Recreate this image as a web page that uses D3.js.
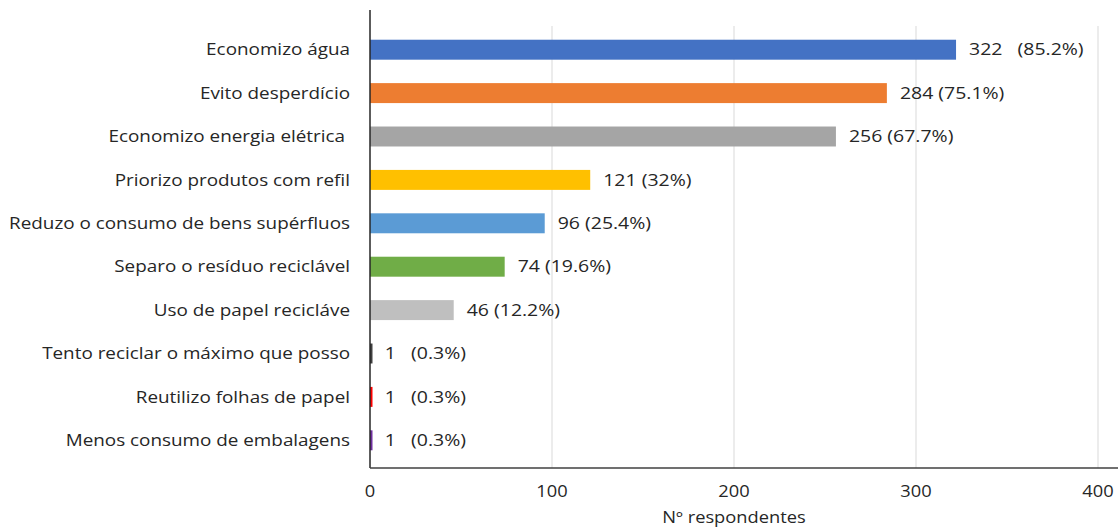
<!DOCTYPE html>
<html>
<head>
<meta charset="utf-8">
<script src="https://cdn.jsdelivr.net/npm/d3@7"></script>
<style>
  body { margin: 0; background: #fff; }
  text { font-family: "Open Sans", "Noto Sans", sans-serif; fill: #262626; }
</style>
</head>
<body>
<div id="chart"></div>
<script>
var categories = ["Economizo água", "Evito desperdício", "Economizo energia elétrica ",
                  "Priorizo produtos com refil", "Reduzo o consumo de bens supérfluos",
                  "Separo o resíduo reciclável", "Uso de papel recicláve",
                  "Tento reciclar o máximo que posso", "Reutilizo folhas de papel",
                  "Menos consumo de embalagens"];
var values = [322, 284, 256, 121, 96, 74, 46, 1, 1, 1];
var percents = ["85.2%", "75.1%", "67.7%", "32%", "25.4%", "19.6%", "12.2%", "0.3%", "0.3%", "0.3%"];
var barColors = ["#4472c4", "#ed7d31", "#a5a5a5", "#ffc000", "#5b9bd5",
                 "#70ad47", "#bfbfbf", "#404040", "#ff0000", "#7030a0"];
var xTicks = [0, 100, 200, 300, 400];
var xTitle = "Nº respondentes";

var dims = {
  width: 1118,
  height: 527,
  left: 370,
  right: 1098,
  top: 28,
  bottom: 462,
  axisY: 468
};
// the source picture is stretched sideways, so text gets a horizontal scale
var stretch = 1.18;

var svg = d3.select("#chart")
            .append("svg")
            .attr("width", dims.width)
            .attr("height", dims.height);

var xScale = d3.scaleLinear()
               .domain([0, 400])
               .range([dims.left, dims.right]);

var yScale = d3.scaleBand()
               .domain(categories)
               .range([dims.top, dims.bottom])
               .paddingInner(0.54)
               .paddingOuter(0.27);

function place(x, y){
  return "translate(" + x + "," + y + ") scale(" + stretch + ",1)";
}

// gridlines
svg.append("g").selectAll("line")
   .data(xTicks.slice(1))
   .enter()
   .append("line")
   .attr("x1", function(d){ return xScale(d); })
   .attr("x2", function(d){ return xScale(d); })
   .attr("y1", 26)
   .attr("y2", dims.axisY)
   .attr("stroke", "#d9d9d9")
   .attr("stroke-width", 1);

// bars
svg.append("g").selectAll("rect")
   .data(values)
   .enter()
   .append("rect")
   .attr("x", xScale(0))
   .attr("y", function(d,i){ return yScale(categories[i]); })
   .attr("width", function(d){ return Math.max(2.5, xScale(d) - xScale(0)); })
   .attr("height", yScale.bandwidth())
   .attr("fill", function(d,i){ return barColors[i]; });

// value labels
svg.append("g").selectAll("text")
   .data(values)
   .enter()
   .append("text")
   .attr("transform", function(d,i){ return place(xScale(d) + 13, yScale(categories[i]) + yScale.bandwidth()/2); })
   .attr("dy", "0.35em")
   .style("font-size", "16.5px")
   .style("white-space", "pre")
   .text(function(d,i){ return d + (i == 0 || i >= 7 ? "   " : " ") + "(" + percents[i] + ")"; });

// category labels
svg.append("g").selectAll("text")
   .data(categories)
   .enter()
   .append("text")
   .attr("transform", function(d){ return place(350, yScale(d) + yScale.bandwidth()/2); })
   .attr("dy", "0.35em")
   .attr("text-anchor", "end")
   .style("font-size", "16px")
   .style("white-space", "pre")
   .text(function(d){ return d; });

// axes lines
svg.append("line")
   .attr("x1", dims.left).attr("x2", dims.left)
   .attr("y1", 10).attr("y2", dims.axisY)
   .attr("stroke", "#262626").attr("stroke-width", 1.5);

svg.append("line")
   .attr("x1", dims.left).attr("x2", dims.right + 20)
   .attr("y1", dims.axisY).attr("y2", dims.axisY)
   .attr("stroke", "#404040").attr("stroke-width", 1.5);

// tick labels
svg.append("g").selectAll("text")
   .data(xTicks)
   .enter()
   .append("text")
   .attr("transform", function(d){ return place(xScale(d), 492); })
   .attr("dy", "0.35em")
   .attr("text-anchor", "middle")
   .style("font-size", "15.5px")
   .text(function(d){ return d; });

svg.append("text")
   .attr("transform", place(xScale(200), 518))
   .attr("dy", "0.35em")
   .attr("text-anchor", "middle")
   .style("font-size", "15.5px")
   .text(xTitle);
</script>
</body>
</html>
